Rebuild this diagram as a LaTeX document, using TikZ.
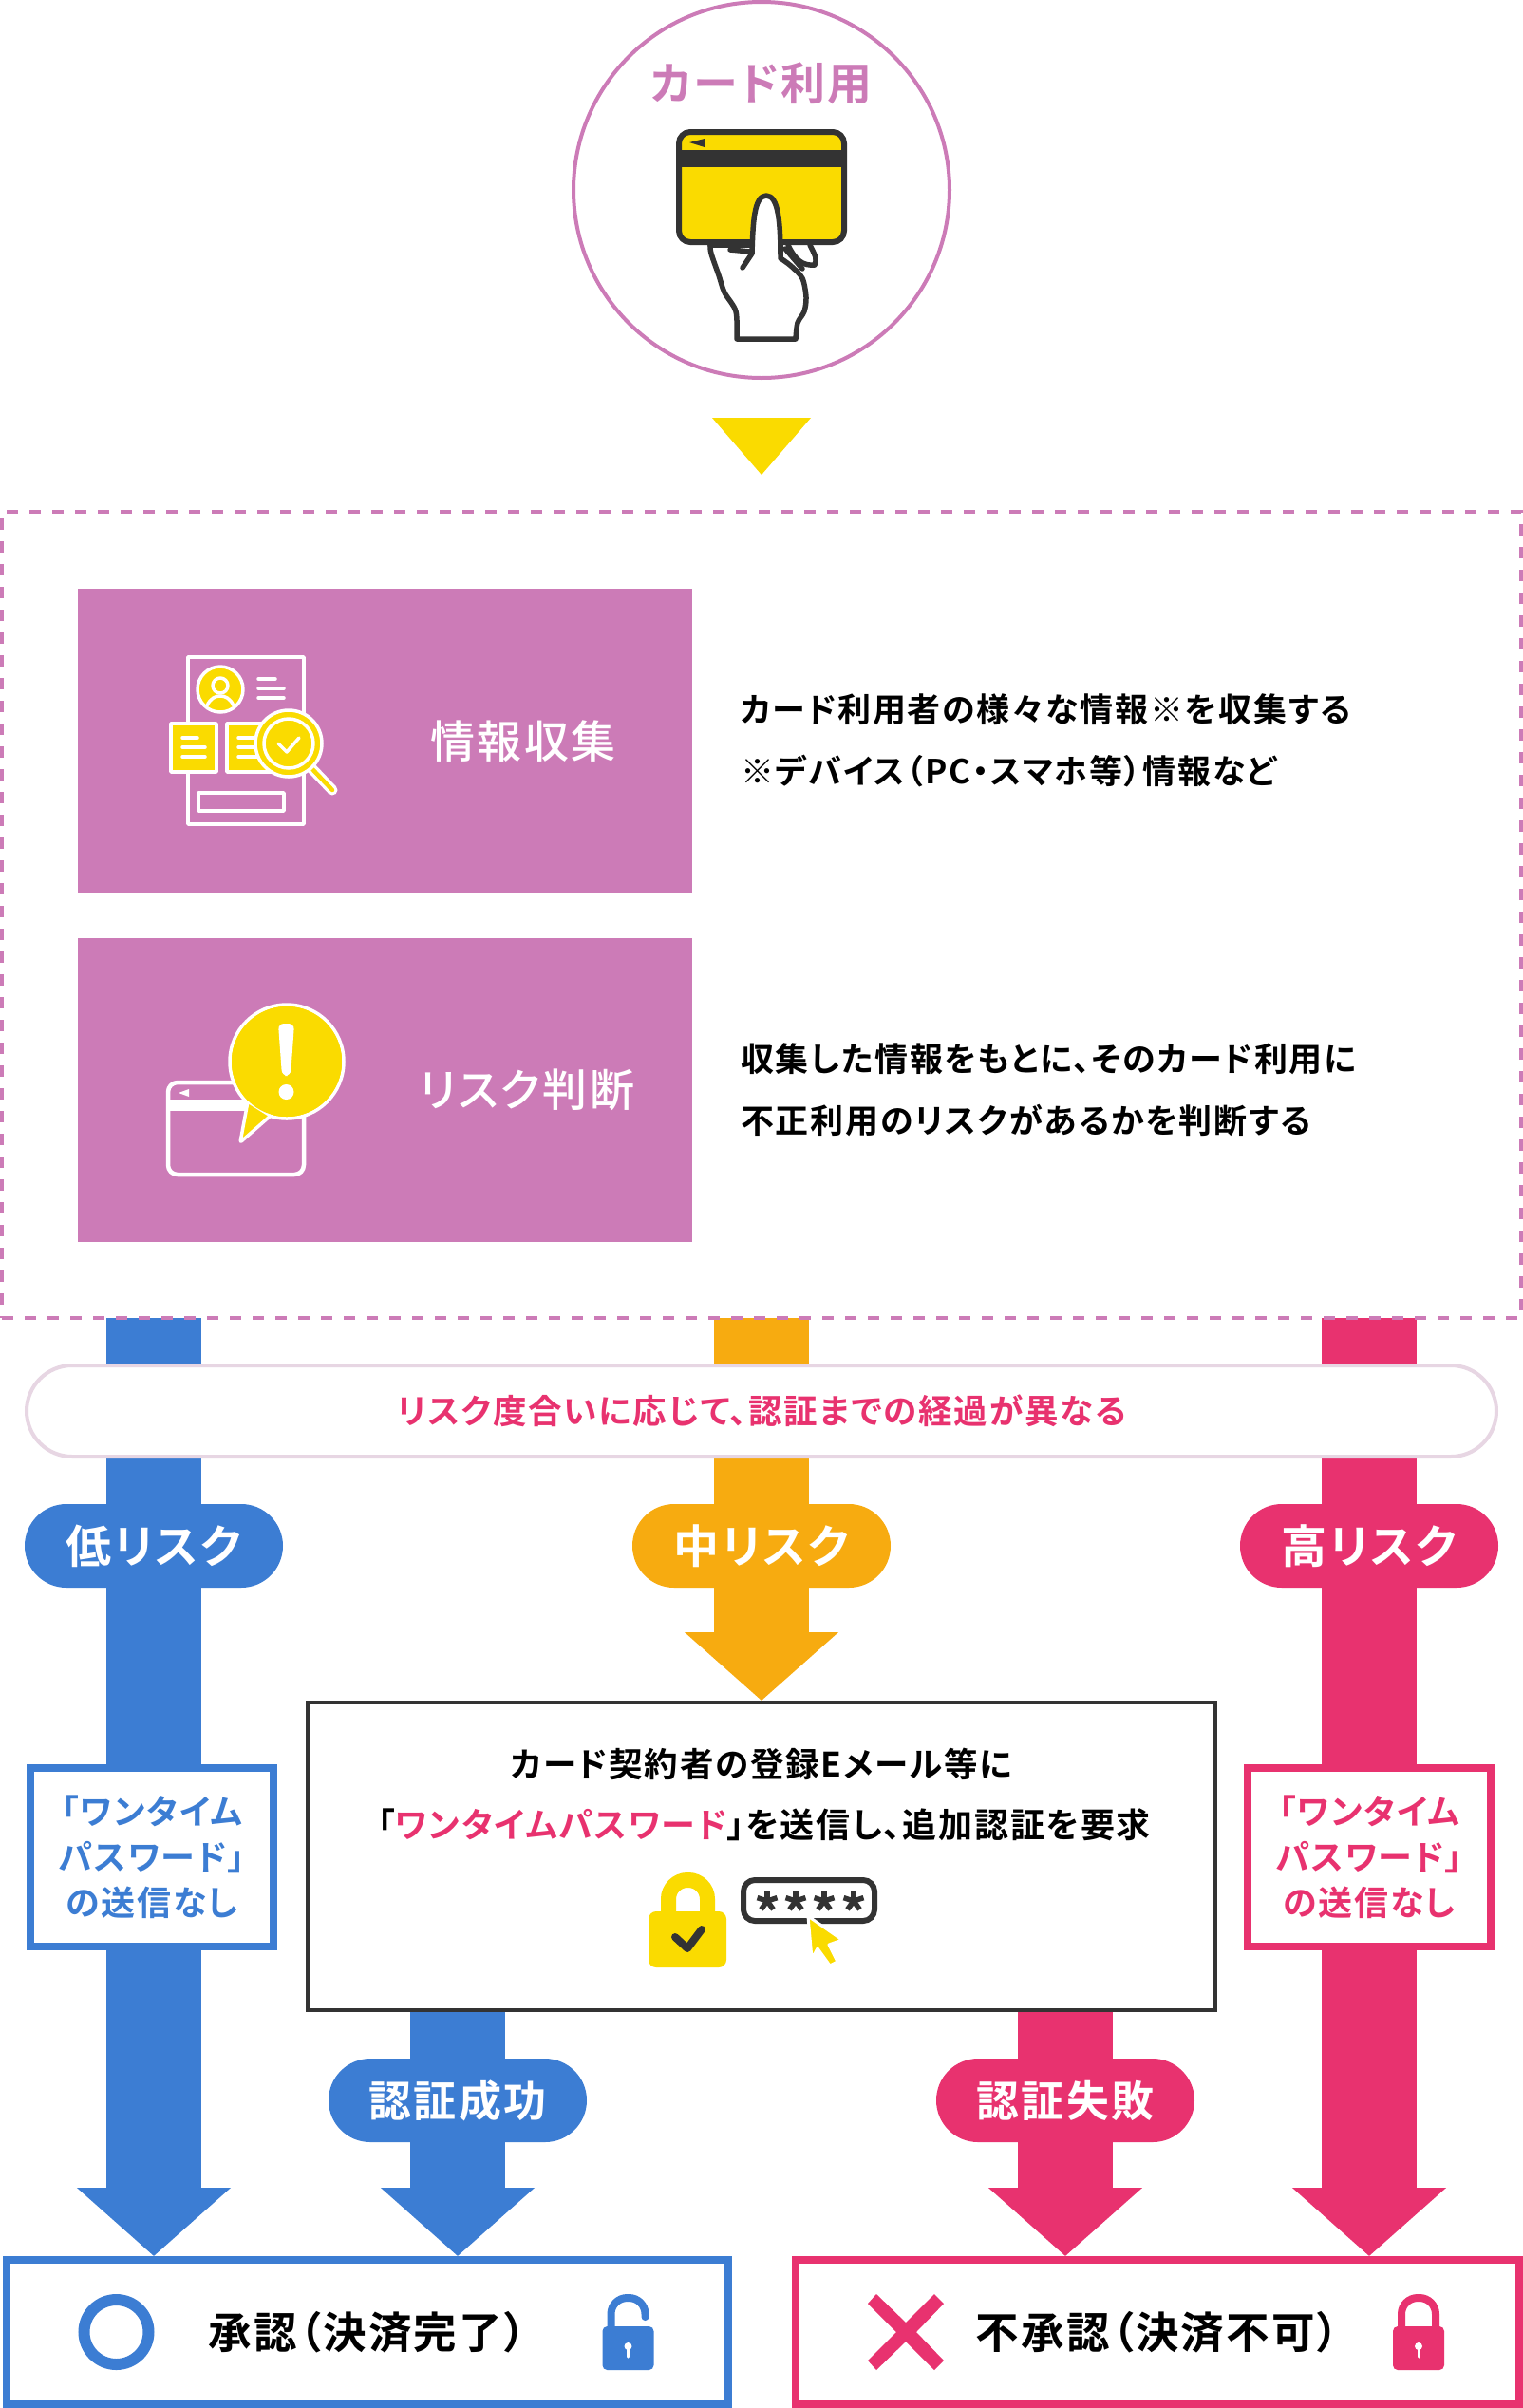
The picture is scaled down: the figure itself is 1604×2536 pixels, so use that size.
\documentclass[tikz,border=0pt]{standalone}
\usepackage{fontspec}
\setmainfont{Noto Sans CJK JP}[UprightFont=* Medium,BoldFont=* Bold,RawFeature=+palt,LetterSpace=5]
\usepackage{tikz}
\usetikzlibrary{shapes,arrows,arrows.meta,backgrounds}
\definecolor{cardpurple}{HTML}{CC7BB7}
\definecolor{cardyellow}{HTML}{FADB00}
\definecolor{lowblue}{HTML}{3C7DD3}
\definecolor{midorange}{HTML}{F7AB10}
\definecolor{highpink}{HTML}{E8326F}
\definecolor{darkline}{HTML}{333333}
\definecolor{bandline}{HTML}{E7D6E3}
\newcommand{\jptext}[2]{\fontsize{#1}{#2}\selectfont}
\newcommand{\padlock}[3]{
	\begin{scope}[shift={(#2,2456)}]
		\draw[#1,line width=8pt,line cap=round,rounded corners=17pt] (-18,-4) -- (-18,-36) -- (18,-36) -- (18,#3);
		\fill[#1,rounded corners=5pt] (-27,-6) rectangle (27,40);
		\fill[white] (0,15) circle (4pt);
		\draw[white,line width=3pt,line cap=round] (0,15) -- (0,26);
	\end{scope}
}
\tikzset{
	infobox/.style={fill=cardpurple,minimum width=647pt,minimum height=320pt,inner sep=0pt},
	boxlabel/.style={text=white,font=\jptext{47}{50}},
	bodytext/.style={align=left,anchor=west,inner sep=0pt,font=\jptext{35}{65}\bfseries},
	riskpill/.style={minimum width=272pt,minimum height=88pt,rounded corners=44pt,inner sep=0pt,text=white,font=\jptext{48}{50}\bfseries},
	sendbox/.style={draw=#1,text=#1,fill=white,line width=8pt,minimum width=256pt,minimum height=188pt,align=center,inner sep=0pt,font=\jptext{36}{48}\bfseries},
	resultbox/.style={draw=#1,fill=white,line width=8pt,minimum height=152pt,inner sep=0pt,font=\jptext{45.5}{50}\bfseries},
	blockarrow/.style={line width=100pt,-{Triangle[length=72pt,width=158pt]}},
	iconline/.style={draw=white,line width=3.5pt,line cap=round,line join=round},
	handline/.style={draw=darkline,fill=white,line width=5.5pt,line cap=round,line join=round},
}
\begin{document}
\begin{tikzpicture}[x=1pt,y=-1pt,node distance=100pt]
	\useasboundingbox (0,0) rectangle (1604,2536);

	\node[draw=cardpurple,line width=4pt,circle,minimum size=396pt,inner sep=0pt] (usecircle) at (802,200) {};
	\node[text=cardpurple,font=\jptext{47}{50}\bfseries] (usetitle) at (802,88) {カード利用};

	\draw[handline,smooth] plot coordinates {(748,258) (749,267) (757,290) (763,308) (775,328) (776,357)} -- (838,357) -- plot[smooth] coordinates {(838,357) (840,340) (847,328) (849,313) (845,293) (833,280) (822,272)} -- (822,258) -- cycle;
	\draw[handline] (830,258) .. controls (838,275) and (846,280) .. (858,279) .. controls (860,272) .. (853,258);
	\draw[handline] (827,262) -- (845,283);
	\draw[handline] (769,263) -- (790,265);
	\draw[draw=darkline,fill=cardyellow,line width=6pt,rounded corners=12pt] (715,139) rectangle (889,255);
	\fill[darkline] (715,158) rectangle (889,176);
	\fill[darkline] (726,150) -- (742,146) -- (742,155) -- cycle;
	\draw[handline] (782,282) -- (792,267) .. controls (793,235) and (794,206) .. (807,206) .. controls (820,206) and (822,235) .. (822,272);

	\fill[cardyellow] (750,440) -- (854,440) -- (802,500) -- cycle;

	\node[draw=cardpurple,line width=4pt,dash pattern=on 12pt off 12pt,outer sep=0pt,minimum width=1600pt,minimum height=849pt] (scan) at (802,963.5) {};
	\node[infobox] (collect) at (405.5,780) {};
	\node[infobox,below of=collect,node distance=368pt] (judge) {};
	\node[boxlabel] (collectlabel) at (551,781) {情報収集};
	\node[boxlabel] (judgelabel) at (555,1148) {リスク判断};
	\node[bodytext] (collecttext) at (780,780) {カード利用者の様々な情報※を収集する\\※デバイス（PC・スマホ等）情報など};
	\node[bodytext] (judgetext) at (780,1148) {収集した情報をもとに、そのカード利用に\\不正利用のリスクがあるかを判断する};

	\draw[iconline] (198,692) rectangle (320,868);
	\draw[iconline,fill=cardyellow] (232,726) circle (24pt);
	\draw[iconline] (232,722) circle (8pt);
	\draw[iconline] (218,743) .. controls (222,735) and (227,733) .. (232,733) .. controls (237,733) and (242,735) .. (246,743);
	\draw[iconline] (272,715) -- (290,715);
	\draw[iconline] (272,725) -- (299,725);
	\draw[iconline] (272,735) -- (299,735);
	\draw[iconline,fill=cardyellow] (180,762) rectangle (228,813);
	\draw[iconline] (192,777) -- (208,777);
	\draw[iconline] (192,787) -- (216,787);
	\draw[iconline] (192,797) -- (216,797);
	\draw[iconline,fill=cardyellow] (239,762) rectangle (290,813);
	\draw[iconline] (251,777) -- (268,777);
	\draw[iconline] (251,787) -- (275,787);
	\draw[iconline] (251,797) -- (275,797);
	\draw[iconline,line width=11pt] (329,810) -- (350,832);
	\draw[cardyellow,line width=4.5pt,line cap=round] (329,810) -- (350,832);
	\draw[iconline,fill=cardyellow] (304,783) circle (35pt);
	\draw[iconline] (304,783) circle (26pt);
	\draw[iconline] (293,783) -- (302,792) -- (315,777);
	\draw[iconline] (209,835) rectangle (299,854);

	\draw[iconline,line width=4.5pt,rounded corners=10pt] (177,1140) rectangle (320,1237);
	\fill[white] (177,1158) rectangle (320,1170);
	\fill[white] (188,1151) -- (199,1147) -- (199,1155) -- cycle;
	\draw[iconline,fill=cardyellow] (302,1118) circle (60pt);
	\draw[iconline,fill=cardyellow,rounded corners=2pt] (261,1160) -- (253,1203) -- (285,1175) -- cycle;
	\fill[cardyellow] (302,1118) circle (58pt);
	\fill[white,rounded corners=6pt] (293,1078) -- (310,1078) -- (306,1133) -- (297,1133) -- cycle;
	\fill[white] (301.5,1150) circle (8pt);

	\node[draw=bandline,fill=white,line width=4pt,minimum width=1548pt,minimum height=96pt,rounded corners=48pt,text=highpink,font=\jptext{35.5}{40}\bfseries] (band) at (802,1486) {リスク度合いに応じて、認証までの経過が異なる};

	\node[riskpill,fill=lowblue] (lowpill) at (162,1628) {低リスク};
	\node[riskpill,fill=midorange,right of=lowpill,node distance=640pt] (midpill) {中リスク};
	\node[riskpill,fill=highpink,right of=midpill,node distance=640pt] (highpill) {高リスク};

	\node[sendbox=lowblue] (lowsend) at (160,1956) {「ワンタイム\\パスワード」\\の送信なし};
	\node[sendbox=highpink] (highsend) at (1442,1956) {「ワンタイム\\パスワード」\\の送信なし};

	\node[draw=darkline,fill=white,line width=4pt,minimum width=956pt,minimum height=324pt] (mfa) at (802,1955) {};
	\node[inner sep=0pt,font=\jptext{35.5}{40}\bfseries] (mfaline) at (802,1858) {カード契約者の登録Eメール等に};
	\node[inner sep=0pt,font=\jptext{36}{40}\bfseries] (mfasend) at (805,1922) {「\textcolor{highpink}{ワンタイムパスワード}」を送信し、追加認証を要求};

	\draw[cardyellow,line width=16pt,rounded corners=20pt] (704,2016) -- (704,1980) -- (745,1980) -- (745,2016);
	\fill[cardyellow,rounded corners=8pt] (683,2013) rectangle (765,2072);
	\draw[darkline,line width=8pt,line cap=round,line join=round] (711,2040) -- (724,2052) -- (739,2032);
	\draw[darkline,line width=6pt,rounded corners=12pt] (783,1980) rectangle (921,2023);
	\foreach \sx in {808,838,868,899}{
		\foreach \sa in {90,162,234,306,18}{
			\draw[darkline,line width=5.5pt] (\sx,2002) -- ++(\sa:11pt);
		}
	}
	\draw[draw=white,fill=cardyellow,line width=3pt,line join=round] (851,2018) -- (887,2043) -- (873,2048) -- (882,2066) -- (874,2070) -- (861,2052) -- (855,2063) -- cycle;

	\node[riskpill,fill=lowblue,font=\jptext{45}{50}\bfseries] (okpill) at (482,2212) {認証成功};
	\node[riskpill,fill=highpink,font=\jptext{45}{50}\bfseries,right of=okpill,node distance=640pt] (ngpill) {認証失敗};

	\node[resultbox=lowblue,minimum width=760pt] (approve) at (387,2456) {承認（決済完了）};
	\node[resultbox=highpink,minimum width=762pt] (reject) at (1219,2456) {不承認（決済不可）};

	\draw[lowblue,line width=12pt] (122.5,2456) circle (34pt);
	\padlock{lowblue}{661.5}{-16}
	\fill[highpink] (914,2426) -- (923,2416) -- (954,2446) -- (984,2416) -- (994,2426) -- (965,2456) -- (994,2486) -- (984,2496) -- (954,2466) -- (923,2496) -- (914,2486) -- (944,2456) -- cycle;
	\padlock{highpink}{1494}{-6}

	\begin{scope}[on background layer]
	\draw[blockarrow,lowblue] (scan.south -| lowpill) -- (approve.north -| lowpill);
	\draw[blockarrow,midorange] (scan.south -| midpill) -- (mfa.north);
	\draw[blockarrow,highpink] (scan.south -| highpill) -- (reject.north -| highpill);
	\draw[blockarrow,lowblue] (mfa.south -| okpill) -- (approve.north -| okpill);
	\draw[blockarrow,highpink] (mfa.south -| ngpill) -- (reject.north -| ngpill);
	\end{scope}
\end{tikzpicture}
\end{document}
